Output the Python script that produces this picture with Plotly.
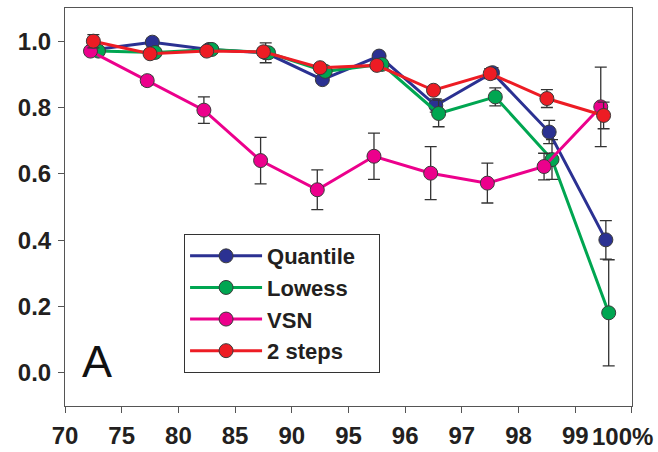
import plotly.graph_objects as go

tick_labels = ["70", "75", "80", "85", "90", "95", "96", "97", "98", "99", "100%"]

quantile = [0.975, 0.997, 0.975, 0.965, 0.884, 0.955, 0.806, 0.905, 0.726, 0.401]
quantile_err = [0.02, 0.01, 0.01, 0.03, 0.01, 0.01, 0.02, 0.015, 0.035, 0.058]
lowess = [0.97, 0.966, 0.975, 0.965, 0.909, 0.93, 0.782, 0.832, 0.643, 0.181]
lowess_err = [0.01, 0.01, 0.01, 0.01, 0.01, 0.01, 0.04, 0.027, 0.06, 0.16]
vsn = [0.97, 0.881, 0.792, 0.64, 0.552, 0.653, 0.602, 0.572, 0.622, 0.802]
vsn_err = [0.01, 0.013, 0.04, 0.07, 0.06, 0.07, 0.08, 0.06, 0.04, 0.12]
two_steps = [1.0, 0.962, 0.97, 0.968, 0.92, 0.927, 0.852, 0.902, 0.827, 0.776]
two_steps_err = [0.02, 0.01, 0.01, 0.01, 0.01, 0.01, 0.01, 0.015, 0.027, 0.04]

series = [
    ("Quantile\u00a0\u00a0\u00a0", quantile, quantile_err, "#2B3192", 0.04),
    ("Lowess", lowess, lowess_err, "#00A651", 0.09),
    ("VSN", vsn, vsn_err, "#EC008C", -0.05),
    ("2 steps", two_steps, two_steps_err, "#ED1C24", 0.0),
]

FONT = "Liberation Sans, Arial, sans-serif"
TICKFONT = dict(family=FONT, size=24, color="#231F20", weight="bold")
fig = go.Figure()
for name, vals, errs, color, off in series:
    xs = [i + 0.5 + off for i in range(len(vals))]
    fig.add_trace(go.Scatter(
        x=xs, y=vals, name=name, mode="lines+markers",
        line=dict(color=color, width=3),
        marker=dict(size=14, color=color, line=dict(color="#3a3a3a", width=1)),
        error_y=dict(type="data", array=errs, visible=True, color="#333333",
                     thickness=1.3, width=6),
    ))

fig.add_annotation(x=0.565, y=0.034, xref="x", yref="y", text="A", showarrow=False,
                   xanchor="center", yanchor="middle",
                   font=dict(family=FONT, size=45, color="#111111"))

# last category label, placed slightly left so it stays inside the page
n = len(tick_labels)
fig.add_annotation(x=n - 1, y=0, xref="x", yref="paper", text=tick_labels[-1],
                   showarrow=False, xanchor="right", yanchor="middle",
                   xshift=23, yshift=-30, font=TICKFONT)

axis_common = dict(showline=True, linecolor="#555555", linewidth=1, mirror=True,
                   ticks="outside", ticklen=6, tickcolor="#555555", showgrid=False,
                   zeroline=False, automargin=False, tickfont=TICKFONT)

fig.update_layout(
    width=658, height=452,
    margin=dict(l=65, r=26, t=8, b=46),
    plot_bgcolor="white", paper_bgcolor="white",
    xaxis=dict(range=[0, 10.001], tickmode="array", tickvals=list(range(n)),
               ticktext=tick_labels[:-1] + [""], ticklabelstandoff=2, **axis_common),
    yaxis=dict(range=[-0.1, 1.1], tickmode="array", tickvals=[0, 0.2, 0.4, 0.6, 0.8, 1.0],
               tickformat=".1f", ticklabelstandoff=2, **axis_common),
    legend=dict(x=0.21, y=0.432, xanchor="left", yanchor="top",
                bordercolor="#333333", borderwidth=1, bgcolor="white",
                itemwidth=72,
                font=dict(family=FONT, size=22, color="#231F20", weight="bold")),
)

fig.write_html("out.html")
